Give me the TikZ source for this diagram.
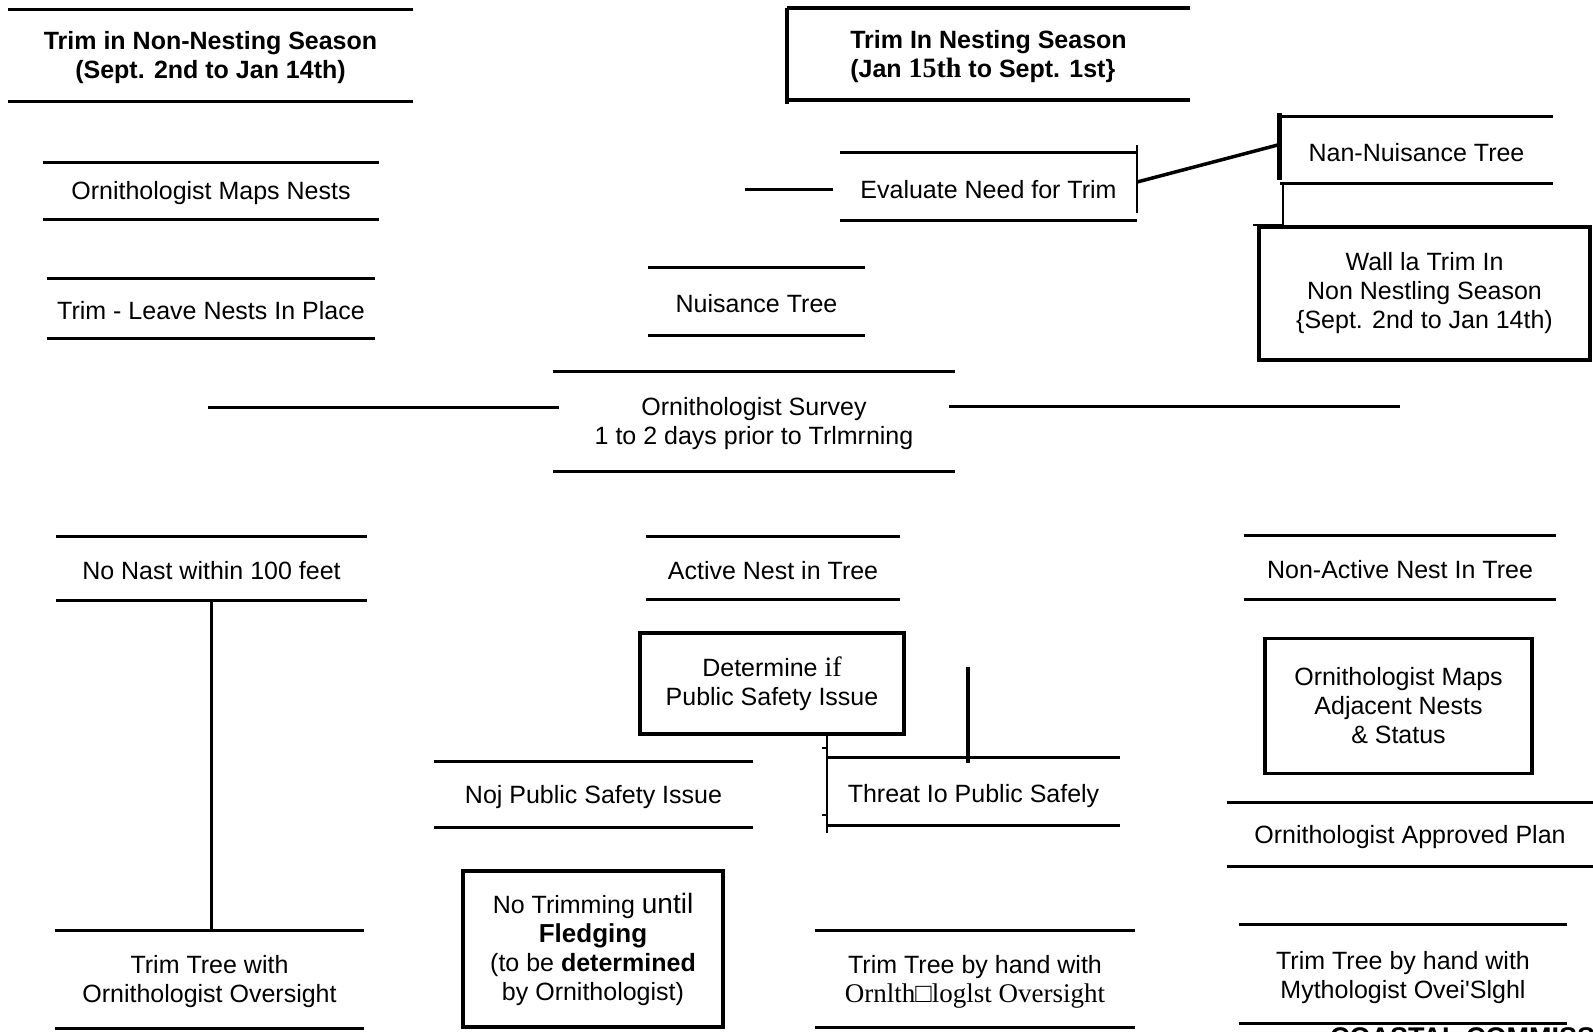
\documentclass[tikz,border=0pt]{standalone}
\usepackage{fontspec}
\setmainfont{Liberation Sans}
\newfontfamily\tnr{Liberation Serif}
\begin{document}
\begin{tikzpicture}[x=1pt,y=-1pt,
  every node/.style={inner sep=0pt, font=\fontsize{25}{29}\selectfont, align=center},
  bar/.style={line width=3pt},
  tb/.style={append after command={([yshift=#1]\tikzlastnode.north west) edge[bar] ([yshift=#1]\tikzlastnode.north east) ([yshift=#1]\tikzlastnode.south west) edge[bar] ([yshift=#1]\tikzlastnode.south east)}},
  tb/.default=2.5pt,
  frame/.style={draw, line width=3.5pt},
  thinline/.style={line width=1.5pt},
  conn/.style={line width=3pt},
]
\useasboundingbox (0,0) rectangle (1593,1032);
\fill[white] (0,0) rectangle (1593,1032);

% headers
\node[tb, minimum width=405pt, minimum height=91pt, font=\bfseries\fontsize{25}{29}\selectfont] (hdrL) at (210.5,58) {Trim in Non-Nesting Season\\(Sept. 2nd to Jan 14th)};
\node[minimum width=403pt, minimum height=92pt, align=left, font=\bfseries\fontsize{25}{29}\selectfont] (hdrC) at (988.5,57) {Trim In Nesting Season\\(Jan {\tnr\fontsize{28}{29}\selectfont 15th} to Sept. 1st\}};
\draw[line width=3.5pt] ([yshift=3pt]hdrC.north west) -- ([yshift=3pt]hdrC.north east) ([yshift=3pt]hdrC.south west) -- ([yshift=3pt]hdrC.south east);
\draw[line width=4pt] ([yshift=3pt]hdrC.north west) -- ([yshift=-1pt]hdrC.south west);

% nesting season branch
\node[tb=3pt, minimum width=297pt, minimum height=67pt] (eval) at (988.5,189.5) {Evaluate Need for Trim};
\draw[thinline] ([yshift=11pt]eval.north east) -- ([yshift=10pt]eval.south east);
\coordinate (evalstub) at (745,190);
\draw[conn] (evalstub) -- ([xshift=-7pt,yshift=-0.5pt]eval.west);

\node[tb=3pt, minimum width=273pt, minimum height=66pt] (nonnuis) at (1416.5,153) {Nan-Nuisance Tree};
\draw[line width=5pt] ([yshift=7pt]nonnuis.north west) -- ([yshift=6pt]nonnuis.south west);
\draw[line width=3.5pt] ([yshift=7.5pt]eval.east) -- ([xshift=-2pt,yshift=8pt]nonnuis.west);

\node[frame, minimum width=331pt, minimum height=133pt] (wall) at (1424.5,293.5) {Wall la Trim In\\Non Nestling Season\\\{Sept. 2nd to Jan 14th)};
\draw[thinline] ([xshift=3pt,yshift=3pt]nonnuis.south west) |- ([xshift=-4pt]wall.north west);

% non-nesting branch
\node[tb, minimum width=336pt, minimum height=56pt] (maps) at (211,193.5) {Ornithologist Maps Nests};
\node[tb, minimum width=328pt, minimum height=59pt] (leave) at (211,311) {Trim - Leave Nests In Place};

\node[tb, minimum width=217pt, minimum height=67pt] (nuis) at (756.5,304) {Nuisance Tree};

\node[tb, minimum width=402pt, minimum height=99pt] (survey) at (754,424) {Ornithologist Survey\\1 to 2 days prior to Trlmrning};
\coordinate (survL) at (208,407);
\draw[conn] (survL) -- ([xshift=6pt,yshift=17pt]survey.west);
\coordinate (survR) at (1400,406);
\draw[conn] ([xshift=-6pt,yshift=18pt]survey.east) -- (survR);

\node[tb, minimum width=311pt, minimum height=64pt] (nonest) at (211.5,571) {No Nast within 100 feet};
\node[tb, minimum width=254pt, minimum height=62pt] (active) at (773,570.5) {Active Nest in Tree};
\node[tb, minimum width=312pt, minimum height=63pt] (nonact) at (1400,570) {Non-Active Nest In Tree};

\node[frame, minimum width=264pt, minimum height=101pt] (det) at (772,683.5) {Determine {\tnr\fontsize{28}{29}\selectfont if}\\Public Safety Issue};

\node[tb=5pt, minimum width=293pt, minimum height=67pt] (threat) at (973.5,796.5) {Threat Io Public Safely};
\draw[thinline] (threat.north west |- det.south) -- ([yshift=-3pt]threat.south west);
\draw[line width=2pt] ([yshift=15pt]threat.north west) -- ++(-5,0);
\draw[line width=2pt] ([yshift=15pt]threat.south west) -- ++(-5,0);
\coordinate (thrTop) at (968,667);
\draw[line width=3.5pt] (thrTop) -- (thrTop |- threat.north);

\node[tb, minimum width=319pt, minimum height=65pt] (noj) at (593.5,797) {Noj Public Safety Issue};
\node[frame, minimum width=260pt, minimum height=156pt] (notrim) at (593,949) {No Trimming {\fontsize{28}{29}\selectfont until}\\{\bfseries\fontsize{26}{29}\selectfont Fledging}\\(to be \textbf{determined}\\by Ornithologist)};

\node[tb, minimum width=309pt, minimum height=97pt] (trimL) at (209.5,982) {Trim Tree with\\Ornithologist Oversight};
\draw[conn, shorten <=-2.5pt, shorten >=2.5pt] (nonest.south) -- (nonest.south |- trimL.north);

\node[tb, minimum width=320pt, minimum height=97pt] (trimM) at (975,981.5) {Trim Tree by hand with\\{\tnr\fontsize{27}{29}\selectfont Ornlth□loglst Oversight}};

\node[frame, minimum width=267pt, minimum height=135pt] (mapsadj) at (1398.5,706) {Ornithologist Maps\\Adjacent Nests\\\& Status};
\node[tb, minimum width=366pt, minimum height=63pt] (approved) at (1410,837) {Ornithologist Approved Plan};
\node[tb=4pt, minimum width=328pt, minimum height=98pt] (trimR) at (1403,978) {Trim Tree by hand with\\Mythologist Ovei\textquotesingle Slghl};

\node[anchor=base west, font=\bfseries\fontsize{27}{29}\selectfont] (coastal) at (1330,1046) {COASTAL COMMISSION};
\end{tikzpicture}
\end{document}
